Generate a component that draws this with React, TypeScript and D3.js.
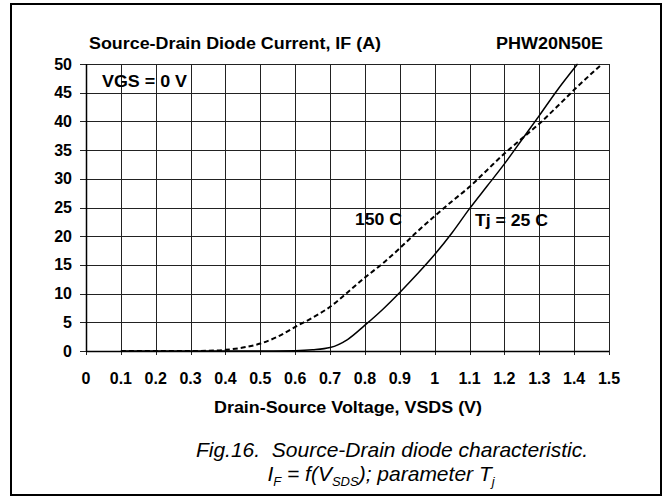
import { useEffect, useRef } from "react";
import * as d3 from "d3";

const width = 667, height = 497;
const margin = { top: 64, right: 58, bottom: 146, left: 86 };

// Tj = 25 C (solid)
const v25 = [0.1, 0.2, 0.3, 0.4, 0.5, 0.6, 0.65, 0.7, 0.75, 0.8, 0.85, 0.9, 0.95, 1.0, 1.05, 1.1, 1.15, 1.2, 1.25, 1.3, 1.35, 1.41];
const i25 = [0, 0, 0, 0, 0, 0.05, 0.2, 0.6, 2.0, 4.5, 7.2, 10.2, 13.4, 16.8, 20.6, 24.8, 28.7, 32.6, 36.8, 41, 45.3, 50];

// Tj = 150 C (dashed)
const v150 = [0.1, 0.2, 0.3, 0.35, 0.4, 0.45, 0.5, 0.55, 0.6, 0.65, 0.7, 0.75, 0.8, 0.85, 0.9, 0.95, 1.0, 1.05, 1.1, 1.15, 1.2, 1.25, 1.3, 1.35, 1.4, 1.48];
const i150 = [0, 0, 0, 0.05, 0.2, 0.6, 1.3, 2.5, 4.2, 5.8, 7.7, 10.2, 12.8, 15.2, 17.9, 20.8, 23.5, 26.1, 28.6, 31.5, 34.4, 37, 39.6, 42.5, 45.5, 50];

const xTicks = [0, 0.1, 0.2, 0.3, 0.4, 0.5, 0.6, 0.7, 0.8, 0.9, 1, 1.1, 1.2, 1.3, 1.4, 1.5];
const yTicks = [0, 5, 10, 15, 20, 25, 30, 35, 40, 45, 50];

const font = "'Liberation Sans', Arial, sans-serif";

const App = () => {
  const ref = useRef(null);

  useEffect(() => {
    const svg = d3.select(ref.current)
      .append("svg")
      .attr("width", width)
      .attr("height", height)
      .style("position", "absolute")
      .style("left", "0px")
      .style("top", "0px")
      .style("font-family", font);

    svg.append("rect").attr("width", width).attr("height", height).attr("fill", "#fff");

    // outer frame
    svg.append("rect")
      .attr("x", 11).attr("y", 4)
      .attr("width", 650).attr("height", 491)
      .attr("fill", "none").attr("stroke", "#000").attr("stroke-width", 2);

    const x = d3.scaleLinear().domain([0, 1.5]).range([margin.left, width - margin.right]);
    const y = d3.scaleLinear().domain([0, 50]).range([height - margin.bottom, margin.top]);

    // grid
    svg.append("g")
      .selectAll("line")
      .data(xTicks)
      .join("line")
        .attr("x1", d => Math.round(x(d)) + 0.5).attr("x2", d => Math.round(x(d)) + 0.5)
        .attr("y1", y(50)).attr("y2", y(0) + 4)
        .attr("stroke", "#222").attr("stroke-width", 1);

    svg.append("g")
      .selectAll("line")
      .data(yTicks)
      .join("line")
        .attr("y1", d => Math.round(y(d)) + 0.5).attr("y2", d => Math.round(y(d)) + 0.5)
        .attr("x1", x(0) - 6).attr("x2", x(1.5))
        .attr("stroke", "#222").attr("stroke-width", 1);

    // axis lines
    svg.append("line")
      .attr("x1", x(0)).attr("x2", x(1.5))
      .attr("y1", Math.round(y(0)) + 0.5).attr("y2", Math.round(y(0)) + 0.5)
      .attr("stroke", "#000").attr("stroke-width", 1.5);
    svg.append("line")
      .attr("x1", Math.round(x(0)) + 0.5).attr("x2", Math.round(x(0)) + 0.5)
      .attr("y1", y(50)).attr("y2", y(0))
      .attr("stroke", "#000").attr("stroke-width", 1.5);

    // tick labels
    svg.append("g")
      .selectAll("text")
      .data(xTicks)
      .join("text")
        .attr("x", d => x(d))
        .attr("y", 384)
        .attr("text-anchor", "middle")
        .attr("font-size", 16)
        .attr("font-weight", "bold")
        .text(d => d3.format("~g")(d));

    svg.append("g")
      .selectAll("text")
      .data(yTicks)
      .join("text")
        .attr("x", 72)
        .attr("y", d => y(d) + 5.5)
        .attr("text-anchor", "end")
        .attr("font-size", 16)
        .attr("font-weight", "bold")
        .text(d => d);

    // curves
    const line = d3.line<[number, number]>()
      .x(d => x(d[0]))
      .y(d => y(d[1]))
      .curve(d3.curveMonotoneX);

    svg.append("path")
      .datum(v150.map((v, i) => [v, i150[i]] as [number, number]))
      .attr("d", line)
      .attr("fill", "none")
      .attr("stroke", "#000")
      .attr("stroke-width", 2)
      .attr("stroke-dasharray", "5,3");

    svg.append("path")
      .datum(v25.map((v, i) => [v, i25[i]] as [number, number]))
      .attr("d", line)
      .attr("fill", "none")
      .attr("stroke", "#000")
      .attr("stroke-width", 1.5);

    // labels (source text is slightly wider than Arial, so stretch to its measured length)
    const bold = (tx: number, ty: number, s: string, len: number, anchor = "start") =>
      svg.append("text")
        .attr("x", tx).attr("y", ty)
        .attr("text-anchor", anchor)
        .attr("font-size", 16)
        .attr("font-weight", "bold")
        .attr("textLength", len)
        .attr("lengthAdjust", "spacingAndGlyphs")
        .text(s);

    bold(89, 49, "Source-Drain Diode Current, IF (A)", 292);
    bold(603, 49, "PHW20N50E", 107, "end");
    bold(102, 87, "VGS = 0 V", 85);
    bold(355, 225, "150 C", 47);
    bold(475, 226, "Tj = 25 C", 73);
    bold(214, 413, "Drain-Source Voltage, VSDS (V)", 268);

    // caption
    svg.append("text")
      .attr("x", 392).attr("y", 457)
      .attr("text-anchor", "middle")
      .attr("font-size", 21)
      .attr("font-style", "italic")
      .style("white-space", "pre")
      .text("Fig.16.  Source-Drain diode characteristic.");

    const cap2 = svg.append("text")
      .attr("x", 381).attr("y", 481)
      .attr("text-anchor", "middle")
      .attr("font-size", 21)
      .attr("font-style", "italic");
    cap2.append("tspan").text("I");
    cap2.append("tspan").attr("font-size", 13).attr("dy", 5).text("F");
    cap2.append("tspan").attr("dy", -5).text(" = f(V");
    cap2.append("tspan").attr("font-size", 13).attr("dy", 5).text("SDS");
    cap2.append("tspan").attr("dy", -5).text("); parameter T");
    cap2.append("tspan").attr("font-size", 13).attr("dy", 5).text("j");

    return () => {
      d3.select(ref.current).select("svg").remove();
    };
  }, []);

  return <div ref={ref}></div>;
};

export default App;
